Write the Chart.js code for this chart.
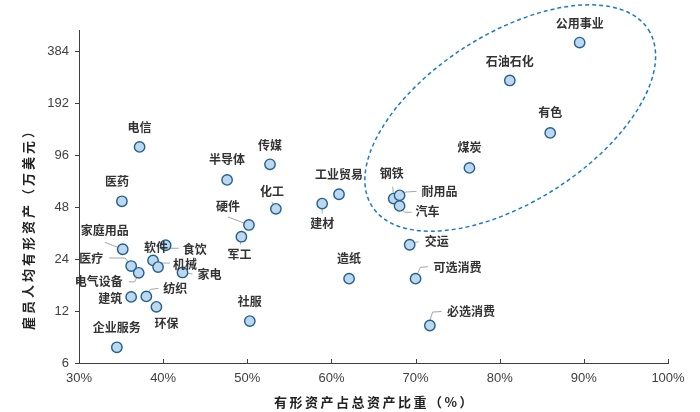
<!DOCTYPE html>
<html>
<head>
<meta charset="utf-8">
<script src="https://cdn.jsdelivr.net/npm/chart.js@4.4.1/dist/chart.umd.min.js"></script>
<style>
  html, body { margin: 0; padding: 0; background: #fff; }
  #wrap { width: 700px; height: 412px; }
</style>
</head>
<body>
<div id="wrap"><canvas id="chart" width="700" height="412"></canvas></div>
<script>
/* ── Dados ─────────────────────────────────────────────── */
const industries = [
  '电信', '医药', '半导体', '传媒', '化工', '工业贸易', '建材', '硬件',
  '军工', '家庭用品', '医疗', '电气设备', '软件', '食饮', '机械', '家电',
  '建筑', '纺织', '环保', '企业服务', '社服', '公用事业', '石油石化', '有色',
  '煤炭', '钢铁', '耐用品', '汽车', '交运', '造纸', '可选消费', '必选消费',
];
// 有形资产占总资产比重 (%)
const tangibleShare = [
  37.2, 35.1, 47.6, 52.7, 53.4, 60.9, 58.9, 50.2,
  49.3, 35.2, 36.2, 37.1, 38.8, 40.3, 39.4, 42.3,
  36.2, 38.0, 39.2, 34.5, 50.3, 89.5, 81.2, 86.0,
  76.4, 67.4, 68.1, 68.1, 69.3, 62.1, 70.0, 71.7,
];
// 雇员人均有形资产 (万美元)
const assetsPerEmployee = [
  107.5, 52.0, 69.2, 85.2, 47.0, 57.1, 50.4, 37.9,
  32.4, 27.4, 21.9, 20.0, 23.6, 28.9, 21.6, 20.1,
  14.5, 14.6, 12.7, 7.4, 10.5, 433, 261, 129.6,
  81.2, 53.9, 56.3, 48.9, 29.1, 18.5, 18.5, 9.9,
];
const xTicks = [30, 40, 50, 60, 70, 80, 90, 100];
const yTicks = [6, 12, 24, 48, 96, 192, 384];

/* ── Posição dos rótulos (px, relativo ao ponto) ───────── */
const labelOffsets = [
  [0, -19], [-5, -20], [0, -20], [0, -19], [-4, -17], [0, -20], [0, 20], [-21, -19],
  [-2, 18], [-18, -19], [-40, -8], [-40, 9], [3, -13], [29, 4], [27, -3], [27, 2],
  [-21, 2], [29, -8], [10, 17], [0, -20], [0, -20], [0, -19], [0, -19], [0, -20],
  [0, -20], [-2, -25], [40, -4], [28, 6], [27, -3], [0, -20], [42, -11], [41, -14],
];
// linhas de chamada (polilinhas relativas ao ponto)
const leaders = {
  '化工': [[-4, -7], [0, 0]],
  '建材': [[0, 0], [0, 10]],
  '硬件': [[-21, -8], [0, 0]],
  '军工': [[-1, 8], [0, 0]],
  '家庭用品': [[-18, -7], [0, 0]],
  '医疗': [[-22, -8], [-6, -8], [0, 0]],
  '电气设备': [[-10, 9], [-4, 9], [0, 0]],
  '食饮': [[0, 3], [13, 3]],
  '机械': [[0, -4], [12, -4]],
  '家电': [[0, 0], [10, 1.5]],
  '纺织': [[0, 0], [4, -7], [12, -8]],
  '钢铁': [[-1, -12], [0, 0]],
  '耐用品': [[3, -3], [17, -4]],
  '汽车': [[2, 3], [5, 6.4], [12, 6.4]],
  '交运': [[3, -2], [9, -3]],
  '可选消费': [[0.7, -2.3], [4.7, -11.3], [12.3, -12]],
  '必选消费': [[-0.7, -2.4], [2.7, -13.4], [11.7, -14]],
};

const ELLIPSE = { cx: 81.25, cy: 158, rx: 164, ry: 84, angle: -32.6 };

const TEXT = '#404040';
const TICK_FONT = { family: '"Liberation Sans", Arial, sans-serif', size: 13 };
const CJK = '"Noto Sans CJK SC", sans-serif';

/* ── Plugin: rótulos, chamadas, elipse, títulos ────────── */
const decorPlugin = {
  id: 'decor',
  beforeDatasetsDraw(chart) {
    const { ctx, scales: { x, y } } = chart;
    ctx.save();
    ctx.strokeStyle = '#a6a6a6';
    ctx.lineWidth = 1;
    industries.forEach((name, i) => {
      const pts = leaders[name];
      if (!pts) return;
      const px = x.getPixelForValue(tangibleShare[i]);
      const py = y.getPixelForValue(assetsPerEmployee[i]);
      ctx.beginPath();
      pts.forEach(([dx, dy], k) => {
        if (k === 0) ctx.moveTo(px + dx, py + dy); else ctx.lineTo(px + dx, py + dy);
      });
      ctx.stroke();
    });
    ctx.restore();
  },
  afterDatasetsDraw(chart) {
    const { ctx, scales: { x, y } } = chart;
    ctx.save();
    // rótulos
    ctx.font = `bold 12px ${CJK}`;
    ctx.fillStyle = '#333';
    ctx.textAlign = 'center';
    ctx.textBaseline = 'middle';
    industries.forEach((name, i) => {
      const px = x.getPixelForValue(tangibleShare[i]);
      const py = y.getPixelForValue(assetsPerEmployee[i]);
      const [dx, dy] = labelOffsets[i];
      ctx.fillText(name, px + dx, py + dy);
    });
    // elipse
    const ex = x.getPixelForValue(ELLIPSE.cx);
    const ey = y.getPixelForValue(ELLIPSE.cy);
    ctx.beginPath();
    ctx.ellipse(ex, ey, ELLIPSE.rx, ELLIPSE.ry, ELLIPSE.angle * Math.PI / 180, 0, Math.PI * 2);
    ctx.setLineDash([4, 3]);
    ctx.strokeStyle = '#1a7ac8';
    ctx.lineWidth = 1.5;
    ctx.stroke();
    ctx.restore();
  },
  afterDraw(chart) {
    const { ctx, chartArea, scales: { x } } = chart;
    ctx.save();
    // marcas do eixo X (para dentro)
    ctx.strokeStyle = TEXT;
    ctx.lineWidth = 1;
    xTicks.forEach(v => {
      const px = Math.round(x.getPixelForValue(v)) + 0.5;
      ctx.beginPath();
      ctx.moveTo(px, chartArea.bottom);
      ctx.lineTo(px, chartArea.bottom - 4);
      ctx.stroke();
    });
    // títulos dos eixos
    ctx.fillStyle = '#222';
    ctx.font = `bold 13px ${CJK}`;
    ctx.textAlign = 'center';
    ctx.textBaseline = 'middle';
    ctx.letterSpacing = '2.5px';
    ctx.fillText('有形资产占总资产比重（%）', (chartArea.left + chartArea.right) / 2 + 1, 402);
    ctx.letterSpacing = '3px';
    ctx.translate(28, 226);
    ctx.rotate(-Math.PI / 2);
    ctx.fillText('雇员人均有形资产（万美元）', 0, 0);
    ctx.restore();
  },
};

new Chart(document.getElementById('chart'), {
  type: 'scatter',
  data: {
    datasets: [{
      label: '行业',
      data: industries.map((n, i) => ({ x: tangibleShare[i], y: assetsPerEmployee[i] })),
      backgroundColor: '#bdd7ee',
      borderColor: '#1f5f8f',
      borderWidth: 1.4,
      pointRadius: 5.2,
      pointHoverRadius: 5.2,
    }],
  },
  options: {
    responsive: false,
    animation: false,
    layout: { padding: { top: 30, right: 32, bottom: 0, left: 0 } },
    plugins: { legend: { display: false }, tooltip: { enabled: false } },
    scales: {
      x: {
        type: 'linear',
        min: 30,
        max: 100,
        afterBuildTicks: s => { s.ticks = xTicks.map(v => ({ value: v })); },
        afterFit: s => { s.height = 49; },
        ticks: { callback: v => v + '%', color: TEXT, font: TICK_FONT, padding: 8, maxRotation: 0 },
        grid: { drawOnChartArea: false, drawTicks: false },
        border: { color: TEXT, width: 1 },
      },
      y: {
        type: 'logarithmic',
        min: 6,
        max: 512,
        afterBuildTicks: s => { s.ticks = yTicks.map(v => ({ value: v })); },
        afterFit: s => { s.width = 79; },
        ticks: { callback: v => String(v), color: TEXT, font: TICK_FONT, padding: 6 },
        grid: { drawOnChartArea: false, tickLength: 4, color: TEXT },
        border: { color: TEXT, width: 1 },
      },
    },
  },
  plugins: [decorPlugin],
});
</script>
</body>
</html>
